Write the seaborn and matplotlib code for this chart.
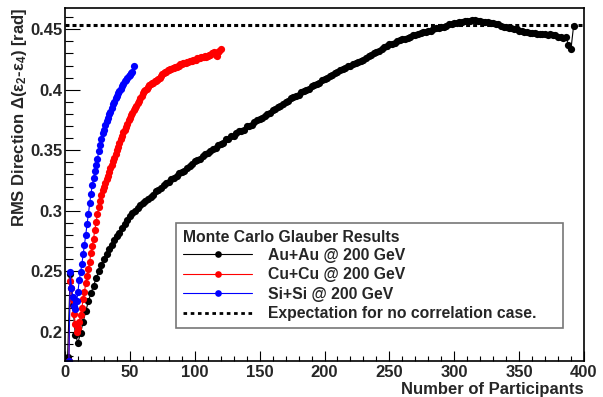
import numpy as np
import pandas as pd
import seaborn as sns
import matplotlib.pyplot as plt
from matplotlib.lines import Line2D
from matplotlib.ticker import MultipleLocator

# --- data (RMS of Δ(ε2-ε4) vs Npart) ---
au_rms = [0.179, 0.248, 0.222, 0.197, 0.191, 0.199, 0.208, 0.217, 0.225, 0.232,
          0.238, 0.244, 0.250, 0.255, 0.260, 0.264, 0.268, 0.272, 0.276, 0.279,
          0.282, 0.286, 0.289, 0.292, 0.296, 0.298, 0.300, 0.302, 0.305, 0.306,
          0.308, 0.310, 0.311, 0.313, 0.316, 0.317, 0.319, 0.321, 0.323, 0.324,
          0.326, 0.327, 0.329, 0.331, 0.332, 0.333, 0.335, 0.337, 0.339, 0.341,
          0.342, 0.343, 0.345, 0.347, 0.348, 0.349, 0.351, 0.352, 0.354, 0.355,
          0.356, 0.359, 0.359, 0.362, 0.362, 0.364, 0.366, 0.366, 0.367, 0.370,
          0.370, 0.371, 0.373, 0.375, 0.376, 0.377, 0.378, 0.380, 0.381, 0.383,
          0.384, 0.386, 0.387, 0.388, 0.390, 0.391, 0.393, 0.394, 0.395, 0.396,
          0.398, 0.399, 0.400, 0.401, 0.403, 0.404, 0.405, 0.406, 0.408, 0.409,
          0.410, 0.411, 0.412, 0.414, 0.415, 0.416, 0.417, 0.418, 0.420, 0.420,
          0.421, 0.422, 0.423, 0.424, 0.425, 0.426, 0.428, 0.429, 0.430, 0.431,
          0.432, 0.434, 0.435, 0.436, 0.438, 0.438, 0.439, 0.440, 0.441, 0.442,
          0.442, 0.443, 0.444, 0.445, 0.445, 0.446, 0.447, 0.448, 0.448, 0.449,
          0.449, 0.450, 0.451, 0.451, 0.452, 0.452, 0.453, 0.454, 0.454, 0.455,
          0.455, 0.456, 0.456, 0.457, 0.457, 0.457, 0.458, 0.458, 0.457, 0.457,
          0.456, 0.456, 0.456, 0.455, 0.455, 0.454, 0.454, 0.453, 0.452, 0.452,
          0.451, 0.451, 0.450, 0.450, 0.449, 0.449, 0.448, 0.448, 0.447, 0.447,
          0.447, 0.446, 0.446, 0.446, 0.446, 0.445, 0.446, 0.445, 0.445, 0.444,
          0.444, 0.443, 0.444, 0.437, 0.434, 0.453]

cu_rms = [0.176, 0.242, 0.236, 0.226, 0.215, 0.206, 0.200, 0.203, 0.208, 0.214,
          0.220, 0.227, 0.233, 0.240, 0.246, 0.252, 0.258, 0.265, 0.271, 0.277,
          0.284, 0.291, 0.297, 0.303, 0.308, 0.313, 0.317, 0.320, 0.323, 0.326,
          0.329, 0.332, 0.335, 0.338, 0.341, 0.344, 0.347, 0.350, 0.353, 0.356,
          0.359, 0.362, 0.365, 0.367, 0.369, 0.372, 0.375, 0.377, 0.379, 0.381,
          0.383, 0.385, 0.387, 0.389, 0.391, 0.393, 0.395, 0.397, 0.399, 0.400,
          0.401, 0.402, 0.404, 0.405, 0.406, 0.406, 0.407, 0.407, 0.408, 0.409,
          0.410, 0.411, 0.413, 0.414, 0.415, 0.415, 0.416, 0.416, 0.417, 0.417,
          0.418, 0.418, 0.419, 0.419, 0.420, 0.420, 0.421, 0.421, 0.422, 0.422,
          0.422, 0.423, 0.423, 0.424, 0.424, 0.424, 0.425, 0.425, 0.425, 0.426,
          0.426, 0.426, 0.427, 0.427, 0.427, 0.428, 0.427, 0.428, 0.429, 0.429,
          0.430, 0.430, 0.431, 0.429, 0.428, 0.431, 0.432, 0.434]

si_rms = [0.176, 0.249, 0.236, 0.229, 0.221, 0.219, 0.225, 0.233, 0.243, 0.249,
          0.256, 0.264, 0.272, 0.280, 0.289, 0.297, 0.306, 0.314, 0.321, 0.327,
          0.333, 0.338, 0.343, 0.349, 0.354, 0.359, 0.364, 0.367, 0.371, 0.374,
          0.377, 0.380, 0.382, 0.385, 0.388, 0.390, 0.393, 0.395, 0.397, 0.399,
          0.401, 0.403, 0.405, 0.407, 0.408, 0.410, 0.411, 0.412, 0.414, 0.415,
          0.420]

au_npart = np.arange(2, 2 + 2 * len(au_rms), 2)
cu_npart = np.arange(3, 3 + len(cu_rms))
si_npart = np.arange(3, 3 + len(si_rms))

no_corr = 0.4534

labels = ['Au+Au @ 200 GeV', 'Cu+Cu @ 200 GeV', 'Si+Si @ 200 GeV']
colors = ['black', '#ff0000', '#0000ff']

df = pd.concat([
    pd.DataFrame({'npart': au_npart, 'rms': au_rms, 'sys': labels[0]}),
    pd.DataFrame({'npart': cu_npart, 'rms': cu_rms, 'sys': labels[1]}),
    pd.DataFrame({'npart': si_npart, 'rms': si_rms, 'sys': labels[2]}),
])

sns.set_theme(style='ticks')
plt.rcParams['font.family'] = ['Liberation Sans', 'DejaVu Sans']
plt.rcParams['font.weight'] = 'bold'
plt.rcParams['mathtext.fontset'] = 'custom'
plt.rcParams['mathtext.rm'] = 'Liberation Sans:bold'
plt.rcParams['mathtext.default'] = 'rm'

W, H = 603, 397
fig = plt.figure(figsize=(W / 100, H / 100), dpi=100)
ax = fig.add_axes([65 / W, 1 - 361 / H, (584 - 65) / W, (361 - 8) / H])

for lab, col in zip(labels, colors):
    sub = df[df['sys'] == lab]
    sns.lineplot(data=sub, x='npart', y='rms', ax=ax, color=col, lw=0.8,
                 marker='o', markersize=5.2, markeredgewidth=0, sort=False,
                 estimator=None, legend=False)

ax.axhline(no_corr, color='black', lw=2.2, ls=(0, (1.3, 1.0)))

ax.set_xlim(0, 400)
ax.set_ylim(0.1758, 0.4676)
ax.xaxis.set_major_locator(MultipleLocator(50))
ax.xaxis.set_minor_locator(MultipleLocator(10))
ax.yaxis.set_major_locator(MultipleLocator(0.05))
ax.yaxis.set_minor_locator(MultipleLocator(0.01))
ax.set_yticks([0.2, 0.25, 0.3, 0.35, 0.4, 0.45])
ax.set_yticklabels(['0.2', '0.25', '0.3', '0.35', '0.4', '0.45'])

ax.tick_params(axis='both', which='both', direction='in', width=0.8,
               labelsize=12, top=False, right=False, color='black')
ax.tick_params(axis='x', which='major', length=7.2, pad=3)
ax.tick_params(axis='x', which='minor', length=3.6)
ax.tick_params(axis='y', which='major', length=11, pad=2)
ax.tick_params(axis='y', which='minor', length=5.8)
for s in ax.spines.values():
    s.set_linewidth(1.2)
    s.set_color('black')

ax.set_xlabel('Number of Participants', fontsize=12, fontweight='bold',
              loc='right', labelpad=1)
ax.set_ylabel('RMS Direction Δ(ε$_{2}$-ε$_{4}$) [rad]', fontsize=12,
              fontweight='bold', loc='top', labelpad=1)

handles = [Line2D([], [], color=c, lw=0.8, marker='o', markersize=4.8,
                  markeredgewidth=0) for c in colors]
handles.append(Line2D([], [], color='black', lw=2.0, ls=(0, (1.3, 1.3))))
leg = ax.legend(handles, labels + ['Expectation for no correlation case.'],
                title='Monte Carlo Glauber Results', alignment='left',
                loc='upper left', mode='expand',
                bbox_to_anchor=(176 / W, 1 - 223 / H - 0.01, (563 - 176) / W, 0.01),
                bbox_transform=fig.transFigure, borderaxespad=0,
                fontsize=11.3, title_fontproperties={'weight': 'bold', 'size': 11.3},
                handlelength=4.4, handletextpad=1.0, labelspacing=0.28,
                borderpad=0.45, numpoints=1, fancybox=False, framealpha=1)
leg._legend_box.sep = 2
leg.get_frame().set_edgecolor('#777777')
leg.get_frame().set_linewidth(1.2)
for t in leg.get_texts():
    t.set_fontweight('bold')

fig.savefig('out.png', dpi=100)
